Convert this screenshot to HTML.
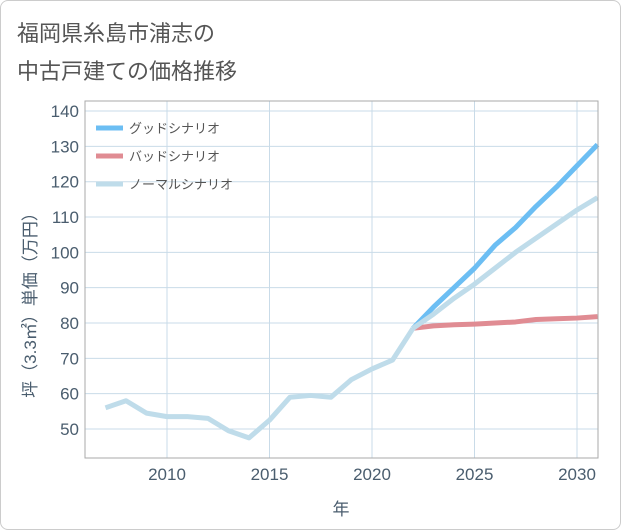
<!DOCTYPE html>
<html><head><meta charset="utf-8"><style>
body{margin:0;background:#fff}
.card{position:absolute;left:0;top:0;width:619px;height:528px;border:1px solid #ccc;border-radius:8px;background:#fff;overflow:hidden}
text{font-family:"Liberation Sans","Noto Sans CJK JP",sans-serif}
</style></head><body>
<div class="card">
<svg id="chart" width="621" height="530">
<text x="16" y="40" font-size="22" fill="#555">福岡県糸島市浦志の</text>
<text x="16" y="78" font-size="22" fill="#555">中古戸建ての価格推移</text>
<g id="grid"></g><g id="series"></g><g id="axes"></g>
<text x="340" y="514" font-size="17" fill="#4a5d6e" text-anchor="middle">年</text>
<text transform="translate(35,300) rotate(-90)" font-size="17" fill="#4a5d6e" text-anchor="middle">坪（3.3㎡）単価（万円）</text>
<g>
<line x1="95" y1="127" x2="122" y2="127" stroke="#6cbef3" stroke-width="5"/>
<text x="128" y="132" font-size="13" fill="#555">グッドシナリオ</text>
<line x1="95" y1="155" x2="122" y2="155" stroke="#e08c93" stroke-width="5"/>
<text x="128" y="160" font-size="13" fill="#555">バッドシナリオ</text>
<line x1="95" y1="183" x2="122" y2="183" stroke="#bfdcea" stroke-width="5"/>
<text x="128" y="188" font-size="13" fill="#555">ノーマルシナリオ</text>
</g>
</svg></div>
<script>
const histYears=[2007,2008,2009,2010,2011,2012,2013,2014,2015,2016,2017,2018,2019,2020,2021,2022];
const histValues=[56,58,54.5,53.5,53.5,53,49.5,47.5,52.5,59,59.5,59,64,67,69.5,78.5];
const futYears=[2022,2023,2024,2025,2026,2027,2028,2029,2030,2031];
const goodValues=[78.5,84.5,90,95.5,102,107,113,118.5,124.5,130.5];
const badValues=[78.5,79.2,79.5,79.7,80,80.3,81,81.2,81.4,81.8];
const normalValues=[78.5,82.5,87,91,95.5,100,104,108,112,115.5];
const yTicks=[50,60,70,80,90,100,110,120,130,140];
const xTicks=[2010,2015,2020,2025,2030];
const L=84,R=597,T=100,B=457;
const xs=y=>166+(y-2010)*20.5;
const ys=v=>428-(v-50)*3.533;
const NS="http://www.w3.org/2000/svg";
function mk(tag,attrs,parent){const e=document.createElementNS(NS,tag);for(const k in attrs)e.setAttribute(k,attrs[k]);parent.appendChild(e);return e;}
const grid=document.getElementById('grid'),ser=document.getElementById('series'),ax=document.getElementById('axes');
yTicks.forEach(v=>{
 const l=mk('line',{x1:L,x2:R,y1:ys(v),y2:ys(v),stroke:'#c9dbe8','stroke-width':1},grid);
 
 
 const t=mk('text',{x:L-6,y:ys(v)+6,'font-size':17,fill:'#4a5d6e','text-anchor':'end'},ax);t.textContent=v;
 
 
});
xTicks.forEach(v=>{
 const l=mk('line',{x1:xs(v),x2:xs(v),y1:T,y2:B,stroke:'#c9dbe8','stroke-width':1},grid);
 
 
 const t=mk('text',{x:xs(v),y:479,'font-size':17,fill:'#4a5d6e','text-anchor':'middle'},ax);t.textContent=v;
 
 
});
const fr=mk('rect',{x:L,y:T,width:R-L,height:B-T,fill:'none',stroke:'#aaa','stroke-width':1},ax);


function line(xsArr,vals,color,name){
 const p=mk('polyline',{points:xsArr.map((y,i)=>xs(y)+','+ys(vals[i])).join(' '),fill:'none',stroke:color,'stroke-width':5,'stroke-linejoin':'round'},ser);
 
 
}
line(futYears,goodValues,'#6cbef3','good-scenario-line');
line(futYears,badValues,'#e08c93','bad-scenario-line');
line(futYears,normalValues,'#bfdcea','normal-scenario-line');
line(histYears,histValues,'#bfdcea','historical-line');
</script>
</body></html>
